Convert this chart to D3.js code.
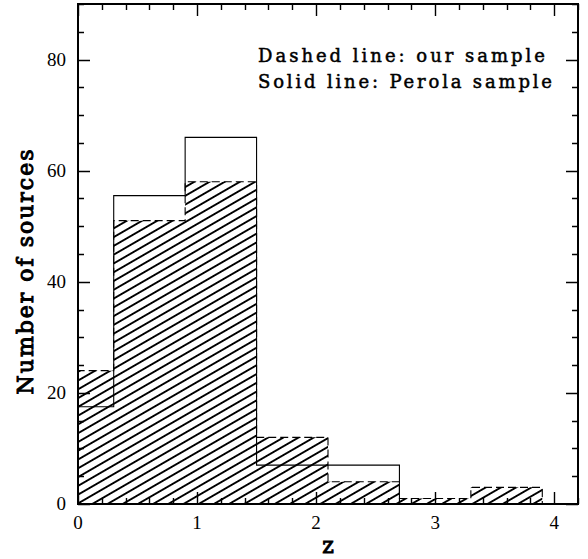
<!DOCTYPE html>
<html>
<head>
<meta charset="utf-8">
<script src="https://cdn.jsdelivr.net/npm/d3@7"></script>
<style>
  html, body { margin: 0; padding: 0; background: #fff; }
  svg { display: block; }
</style>
</head>
<body>
<div id="chart"></div>
<script>
// redshift histogram: our sample (dashed, hatched) vs Perola sample (solid)

// bin edges in z
const binEdges = [0, 0.3, 0.9, 1.5, 2.1, 2.7, 3.3, 3.9];
// counts per bin
const ourSample    = [24, 51, 58, 12, 4, 1, 3];
const perolaSample = [17.5, 55.5, 66, 7, 7, 0, 0];

const xMajorTicks = [0, 1, 2, 3, 4];
const yMajorTicks = [0, 20, 40, 60, 80];

const legendLines = ['Dashed line: our sample', 'Solid line: Perola sample'];

const W = 588, H = 559;
const M = { left: 78, right: 10, top: 4, bottom: 55 };

const svg = d3.select('#chart').append('svg')
  .attr('width', W)
  .attr('height', H);

const x = d3.scaleLinear().domain([0, 4.2]).range([M.left, W - M.right]);
const y = d3.scaleLinear().domain([0, 90]).range([H - M.bottom, M.top]);

// hatch pattern for our sample
const defs = svg.append('defs');
const pat = defs.append('pattern')
  .attr('id', 'hatch')
  .attr('patternUnits', 'userSpaceOnUse')
  .attr('width', 20)
  .attr('height', 7.6)
  .attr('patternTransform', 'rotate(-30)');
pat.append('line')
  .attr('x1', -1).attr('x2', 21)
  .attr('y1', 3.8).attr('y2', 3.8)
  .attr('stroke', '#000')
  .attr('stroke-width', 1)
  .attr('shape-rendering', 'crispEdges');

// step outline of a histogram, starting and ending on the axis
function stepPoints(counts) {
  const pts = [[binEdges[0], 0]];
  counts.forEach((c, i) => {
    pts.push([binEdges[i], c]);
    pts.push([binEdges[i + 1], c]);
  });
  pts.push([binEdges[binEdges.length - 1], 0]);
  return pts;
}

const line = d3.line().x(d => x(d[0])).y(d => y(d[1]));

// hatched area
svg.append('path')
  .attr('d', line(stepPoints(ourSample)) + 'Z')
  .attr('fill', 'url(#hatch)')
  .attr('stroke', 'none');

// dashed outline
svg.append('path')
  .attr('d', line(stepPoints(ourSample)))
  .attr('fill', 'none')
  .attr('stroke', '#000')
  .attr('stroke-width', 1.1)
  .attr('stroke-dasharray', '8,4');

// solid outline
svg.append('path')
  .attr('d', line(stepPoints(perolaSample)))
  .attr('fill', 'none')
  .attr('stroke', '#000')
  .attr('stroke-width', 1.1);

/********************** AXES **********************/

const xMinor = d3.range(0, 4.2001, 0.2).filter(v => !xMajorTicks.some(t => Math.abs(t - v) < 1e-6));
const yMinor = d3.range(0, 90.001, 5).filter(v => !yMajorTicks.includes(v));

const bottomY = y(0), topY = y(90), leftX = x(0), rightX = x(4.2);

const xTicks = xMajorTicks.map(v => ({ v, len: 12 })).concat(xMinor.map(v => ({ v, len: 6 })));
const yTicks = yMajorTicks.map(v => ({ v, len: 12 })).concat(yMinor.map(v => ({ v, len: 6 })));

// all ticks in one path, drawn inward on the four sides
const tp = d3.path();
xTicks.forEach(d => {
  const px = Math.round(x(d.v)) + 0.5;
  tp.moveTo(px, bottomY); tp.lineTo(px, bottomY - d.len);
  tp.moveTo(px, topY);    tp.lineTo(px, topY + d.len);
});
yTicks.forEach(d => {
  const py = Math.round(y(d.v)) + 0.5;
  tp.moveTo(leftX, py);  tp.lineTo(leftX + d.len, py);
  tp.moveTo(rightX, py); tp.lineTo(rightX - d.len, py);
});
svg.append('path')
  .attr('class', 'ticks')
  .attr('d', tp.toString())
  .attr('fill', 'none')
  .attr('stroke', '#000')
  .attr('stroke-width', 1.4);

// tick labels
const tickFont = '"Liberation Serif", "DejaVu Serif", serif';

svg.append('g').selectAll('text')
  .data(xMajorTicks)
  .join('text')
  .attr('x', d => x(d))
  .attr('y', bottomY + 25)
  .attr('text-anchor', 'middle')
  .style('font-family', tickFont)
  .style('font-size', '19px')
  .text(d => d);

svg.append('g').selectAll('text')
  .data(yMajorTicks)
  .join('text')
  .attr('x', leftX - 12)
  .attr('y', d => y(d))
  .attr('dy', '0.34em')
  .attr('text-anchor', 'end')
  .style('font-family', tickFont)
  .style('font-size', '19px')
  .text(d => d);

// frame
svg.append('rect')
  .attr('x', leftX).attr('y', topY)
  .attr('width', rightX - leftX).attr('height', bottomY - topY)
  .attr('fill', 'none')
  .attr('stroke', '#000')
  .attr('stroke-width', 2);

/********************** LABELS **********************/

svg.append('text')
  .attr('transform', `translate(33,${(topY + bottomY) / 2 + 18}) rotate(-90)`)
  .attr('text-anchor', 'middle')
  .attr('textLength', 245)
  .attr('lengthAdjust', 'spacing')
  .style('font-family', '"DejaVu Serif", serif')
  .style('font-size', '22px')
  .style('stroke', '#000')
  .style('stroke-width', 1)
  .text('Number of sources');

svg.append('text')
  .attr('x', x(2.1))
  .attr('y', 553)
  .attr('text-anchor', 'middle')
  .style('font-family', '"DejaVu Serif", serif')
  .style('font-size', '22px')
  .style('stroke', '#000')
  .style('stroke-width', 1)
  .text('z');

const legendLengths = [287, 294];
svg.append('g').selectAll('text')
  .data(legendLines)
  .join('text')
  .attr('x', 258)
  .attr('y', (d, i) => 62 + i * 26)
  .attr('textLength', (d, i) => legendLengths[i])
  .attr('lengthAdjust', 'spacing')
  .style('font-family', '"DejaVu Serif", serif')
  .style('font-size', '18px')
  .style('stroke', '#000')
  .style('stroke-width', 0.5)
  .text(d => d);
</script>
</body>
</html>
